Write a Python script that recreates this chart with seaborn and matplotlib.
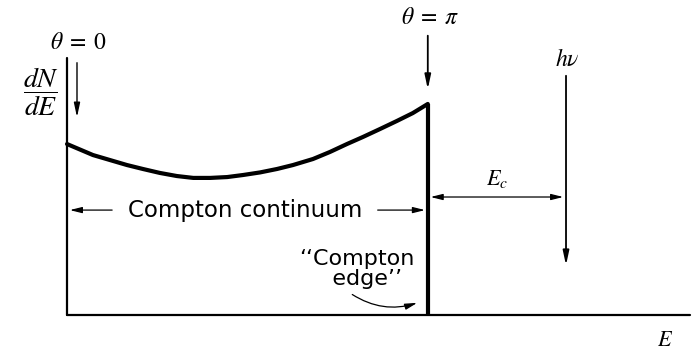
import numpy as np
import pandas as pd
import matplotlib
matplotlib.use("Agg")
import matplotlib.pyplot as plt
import seaborn as sns

# ---- data (arbitrary units: E in units of h*nu, dN/dE normalised at E=0) ----
curve_E = [0.0, 0.052, 0.086, 0.120, 0.152, 0.186, 0.220, 0.253, 0.287, 0.321, 0.353,
           0.387, 0.421, 0.453, 0.493, 0.527, 0.561, 0.593, 0.627, 0.661, 0.693, 0.723]
curve_N = [0.994, 0.930, 0.901, 0.872, 0.849, 0.826, 0.808, 0.797, 0.797, 0.802, 0.814,
           0.829, 0.849, 0.872, 0.907, 0.948, 0.994, 1.035, 1.081, 1.128, 1.174, 1.227]
edge_E = 0.723          # Compton edge energy
h_nu = 1.0              # photon energy
labels = {"theta0": r"$\theta\;=\;0$", "thetapi": r"$\theta\;=\;\pi$",
          "hnu": r"$h\nu$", "Ec": r"$E_c$", "E": r"$E$",
          "dNdE": r"$\dfrac{dN}{dE}$", "cont": "Compton continuum",
          "edge": "\u2018\u2018Compton\n   edge\u2019\u2019"}

sns.set_theme(style="white")
plt.rcParams["mathtext.fontset"] = "stix"
plt.rcParams["font.family"] = ["DejaVu Sans"]

fig = plt.figure(figsize=(6.96, 3.51), dpi=100)
ax = fig.add_axes([0, 0, 1, 1])
ax.set_xlim(-0.1343, 1.2605)
ax.set_ylim(-0.2093, 1.8314)
ax.axis("off")

df = pd.DataFrame({"E": curve_E, "N": curve_N})
sns.lineplot(data=df, x="E", y="N", ax=ax, color="black", lw=3.0, sort=False,
             solid_joinstyle="round")

k = "black"
# axes
ax.plot([0, 0], [0, 1.494], color=k, lw=1.6)
ax.plot([0, 1.2485], [0, 0], color=k, lw=1.6)
# Compton edge
ax.plot([edge_E, edge_E], [0, curve_N[-1]], color=k, lw=3.0, solid_capstyle="butt")

# theta = 0 arrow
ax.annotate("", xy=(0.02, 1.134), xytext=(0.02, 1.483),
            arrowprops=dict(arrowstyle="-|>,head_length=0.7,head_width=0.15", color=k, lw=1.0))
ax.text(0.024, 1.585, labels["theta0"], ha="center", va="center", fontsize=17, color=k)
# theta = pi arrow
ax.annotate("", xy=(edge_E, 1.297), xytext=(edge_E, 1.64),
            arrowprops=dict(arrowstyle="-|>,head_length=0.7,head_width=0.15", color=k, lw=1.3))
ax.text(0.727, 1.735, labels["thetapi"], ha="center", va="center", fontsize=17, color=k)
# h nu line
ax.annotate("", xy=(h_nu, 0.273), xytext=(h_nu, 1.407),
            arrowprops=dict(arrowstyle="-|>,head_length=0.7,head_width=0.15", color=k, lw=1.3))
ax.text(1.002, 1.49, labels["hnu"], ha="center", va="center", fontsize=17, color=k)
# E_c double arrow
ax.annotate("", xy=(edge_E, 0.686), xytext=(h_nu, 0.686),
            arrowprops=dict(arrowstyle="<|-|>,head_length=0.6,head_width=0.15", color=k, lw=0.9))
ax.text(0.862, 0.79, labels["Ec"], ha="center", va="center", fontsize=16, color=k)
# dN/dE
ax.text(-0.052, 1.30, labels["dNdE"], ha="center", va="center", fontsize=20, color=k)
# E
ax.text(1.198, -0.145, labels["E"], ha="center", va="center", fontsize=16, color=k)

# Compton continuum
ax.text(0.357, 0.61, labels["cont"], ha="center", va="center", fontsize=16.5, color=k)
ax.annotate("", xy=(0.0, 0.61), xytext=(0.096, 0.61),
            arrowprops=dict(arrowstyle="-|>,head_length=0.6,head_width=0.15", color=k, lw=0.9))
ax.annotate("", xy=(edge_E, 0.61), xytext=(0.617, 0.61),
            arrowprops=dict(arrowstyle="-|>,head_length=0.6,head_width=0.15", color=k, lw=0.9))

# Compton edge label
ax.text(0.58, 0.265, labels["edge"], ha="center", va="center", fontsize=16, color=k,
        linespacing=1.0)
ax.annotate("", xy=(0.707, 0.0756), xytext=(0.567, 0.128),
            arrowprops=dict(arrowstyle="-|>,head_length=0.6,head_width=0.15", color=k, lw=0.9,
                            connectionstyle="arc3,rad=0.25"))

fig.savefig("out.png", dpi=100)
